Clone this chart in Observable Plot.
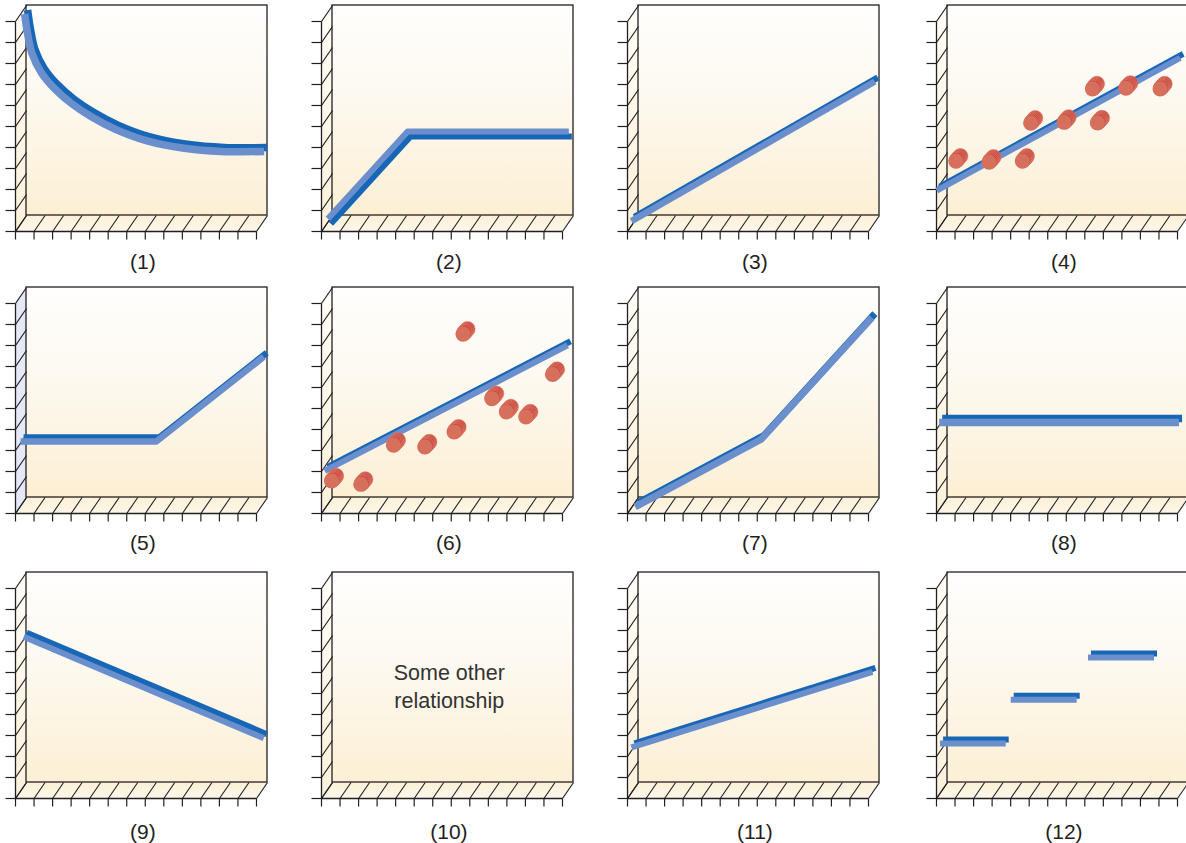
<!DOCTYPE html>
<html>
<head>
<meta charset="utf-8">
<script src="https://cdn.jsdelivr.net/npm/d3@7"></script>
<script src="https://cdn.jsdelivr.net/npm/@observablehq/plot@0.6"></script>
<style>
html, body { margin: 0; padding: 0; background: #fff; }
#page { position: relative; width: 1186px; height: 843px; overflow: hidden; font-family: "Liberation Sans", Arial, sans-serif; }
.panel { position: absolute; width: 290px; height: 280px; }
.panel svg { overflow: visible; display: block; max-width: none !important; }
</style>
</head>
<body>
<svg width="0" height="0" style="position:absolute">
  <defs>
    <linearGradient id="wallGrad" x1="0" y1="0" x2="0" y2="1">
      <stop offset="0" stop-color="#fffefd"/>
      <stop offset="0.45" stop-color="#fdf9f0"/>
      <stop offset="1" stop-color="#fcefd4"/>
    </linearGradient>
    <linearGradient id="sideGrad" x1="0" y1="0" x2="0" y2="1">
      <stop offset="0" stop-color="#fffdf8"/>
      <stop offset="1" stop-color="#fcf1da"/>
    </linearGradient>
    <linearGradient id="floorGrad" x1="0" y1="0" x2="0" y2="1">
      <stop offset="0" stop-color="#fcf0d6"/>
      <stop offset="1" stop-color="#fdf7ea"/>
    </linearGradient>
  </defs>
</svg>
<div id="page"></div>
<script>
// ---------- data (back-wall units: x 0..13, y 0..10) ----------
const panelLabels = ["(1)", "(2)", "(3)", "(4)", "(5)", "(6)", "(7)", "(8)", "(9)", "(10)", "(11)", "(12)"];
const xTicks = [0, 1, 2, 3, 4, 5, 6, 7, 8, 9, 10, 11, 12, 13];
const yTicks = [0, 1, 2, 3, 4, 5, 6, 7, 8, 9, 10];

const curve1 = [[-0.1, 9.6], [0.05, 8.7], [0.3, 7.7], [0.8, 6.8], [1.5, 6.05], [2.4, 5.35], [3.5, 4.7], [4.8, 4.1], [6.5, 3.55], [8.5, 3.2], [10.5, 3.05], [12.82, 3.05]];
const line2 = [[-0.25, -0.15], [4.05, 4.0], [12.75, 4.0]];
const line3 = [[-0.38, -0.27], [12.75, 6.38]];
const line4 = [[-0.58, 1.19], [12.55, 7.51]];
const dots4 = [[0.45, 2.59], [2.24, 2.54], [4.04, 2.59], [4.49, 4.40], [6.29, 4.44], [7.82, 6.03], [8.09, 4.41], [9.62, 6.06], [11.47, 6.03]];
const line5 = [[-0.32, 2.67], [7.0, 2.67], [12.8, 6.7]];
const line6 = [[-0.42, 1.27], [12.68, 7.25]];
const dots6 = [[-0.05, 0.79], [1.53, 0.63], [3.29, 2.49], [4.98, 2.41], [6.56, 3.12], [7.04, 7.78], [8.59, 4.71], [9.38, 4.08], [10.43, 3.84], [11.87, 5.86]];
const line7 = [[-0.18, -0.45], [6.6, 2.76], [12.59, 8.57]];
const line8 = [[-0.45, 3.57], [12.49, 3.57]];
const line9 = [[-0.15, 6.94], [12.8, 2.11]];
const text10 = ["Some other\nrelationship"];
const line11 = [[-0.38, 1.67], [12.62, 5.27]];
const steps12 = [[-0.40, 1.86, 1], [3.14, 1.86, 1], [3.41, 3.94, 2], [6.97, 3.94, 2], [7.58, 5.95, 3], [11.14, 5.95, 3]];

// ---------- geometry / style ----------
const UX = 241 / 13, UY = 21;          // px per unit on the wall
const DX = -11 / UX, DY = -16 / UY;    // oblique offset of the front plane
const TX = 10 / UX, TY = 8 / UY;       // tick lengths
const INK = "#231f20";
const DARK = "#1767b6";
const LIGHT = "#6b8fcd";
const FONT = "'Liberation Sans', Arial, Helvetica, sans-serif";
const colLeft = [0, 306, 612, 921];
const rowTop = [0, 282, 567];
const labelDy = [31, 30, 33.5];

function frameMarks(sideFill) {
  return [
    Plot.area([{y: DY, x1: DX, x2: 13 + DX}, {y: 0, x1: 0, x2: 13}], {x1: "x1", x2: "x2", y1: "y", y2: "y", fill: "url(#floorGrad)"}),
    Plot.area([{x: DX, y1: DY, y2: 10 + DY}, {x: 0, y1: 0, y2: 10}], {x1: "x", x2: "x", y1: "y1", y2: "y2", fill: sideFill}),
    Plot.rect([{x1: 0, x2: 13, y1: 0, y2: 10}], {x1: "x1", x2: "x2", y1: "y1", y2: "y2", fill: "url(#wallGrad)", stroke: INK, strokeWidth: 1.3}),
    Plot.link(yTicks, {x1: DX, y1: k => k + DY, x2: 0, y2: k => k, stroke: INK, strokeWidth: 1.1}),
    Plot.link(xTicks, {x1: j => j + DX, y1: DY, x2: j => j, y2: 0, stroke: INK, strokeWidth: 1.1}),
    Plot.link([0], {x1: DX, x2: DX, y1: DY, y2: 10 + DY, stroke: INK, strokeWidth: 1.3}),
    Plot.link([0], {x1: DX, x2: 13 + DX, y1: DY, y2: DY, stroke: INK, strokeWidth: 1.3}),
    Plot.link(yTicks, {x1: DX - TX, x2: DX, y1: k => k + DY, y2: k => k + DY, stroke: INK, strokeWidth: 1.2}),
    Plot.link(xTicks, {x1: j => j + DX, x2: j => j + DX, y1: DY, y2: DY - TY, stroke: INK, strokeWidth: 1.2})
  ];
}

function ribbon(data, {dx = 3, dy = -4, w = 6.5, z, curve = "linear"} = {}) {
  const base = {x: d => d[0], y: d => d[1], z, curve, strokeWidth: w, strokeLinecap: "butt", strokeLinejoin: "round"};
  return [
    Plot.line(data, {...base, stroke: DARK, dx, dy}),
    Plot.line(data, {...base, stroke: LIGHT})
  ];
}

function cylinders(data) {
  const pos = {x: d => d[0], y: d => d[1], r: 7.6};
  return [
    ...[5, 4, 3, 2, 1].map(k => Plot.dot(data, {...pos, dx: k * 0.9, dy: -k, fill: "#c4463b", stroke: "#e48270", strokeWidth: 0.6})),
    Plot.dot(data, {...pos, fill: "#d6705d"})
  ];
}

const panelMarks = [
  ribbon(curve1, {curve: "catmull-rom", w: 7.5}),
  ribbon(line2, {dx: 3, dy: 5, w: 6}),
  ribbon(line3),
  [...ribbon(line4, {w: 6}), ...cylinders(dots4)],
  ribbon(line5),
  [...ribbon(line6, {w: 6}), ...cylinders(dots6)],
  ribbon(line7, {w: 7}),
  ribbon(line8, {w: 7.5}),
  ribbon(line9, {w: 6}),
  [Plot.text(text10, {x: 6.3, y: 4.65, text: d => d, fontSize: 21.5, lineHeight: 1.33, fill: "#333"})],
  ribbon(line11, {w: 6}),
  ribbon(steps12, {w: 6, z: d => d[2]})
];

const page = document.getElementById("page");
panelLabels.forEach((label, i) => {
  const r = Math.floor(i / 4), c = i % 4;
  const svg = Plot.plot({
    width: 290,
    height: 280,
    margin: 0,
    style: {background: "transparent", overflow: "visible", maxWidth: "none", fontFamily: FONT},
    x: {domain: [0, 13], range: [26, 267], axis: null},
    y: {domain: [0, 10], range: [215, 5], axis: null},
    marks: [
      ...frameMarks(i === 4 ? "#e5e8f6" : "url(#sideGrad)"),
      ...panelMarks[i],
      Plot.text([label], {x: 6.28, y: DY, dy: labelDy[r], text: d => d, fontSize: 21, fill: "#231f20"})
    ]
  });
  const div = document.createElement("div");
  div.className = "panel";
  div.style.left = colLeft[c] + "px";
  div.style.top = rowTop[r] + "px";
  div.appendChild(svg);
  page.appendChild(div);
});
</script>
</body>
</html>
